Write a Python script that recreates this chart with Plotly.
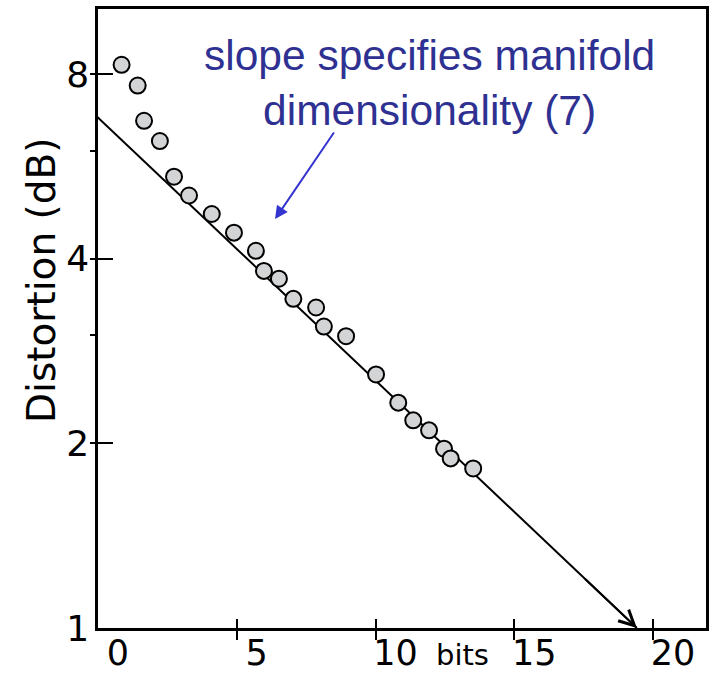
import numpy as np
import plotly.graph_objects as go

# ---- data ----
bits = [0.85, 1.43, 1.66, 2.23, 2.74, 3.28, 4.10, 4.90, 5.69, 5.98, 6.52,
        7.04, 7.86, 8.14, 8.94, 10.02, 10.82, 11.36, 11.93, 12.47, 12.71, 13.52]
distortion = [8.28, 7.66, 6.71, 6.22, 5.44, 5.07, 4.73, 4.41, 4.12, 3.82, 3.71,
              3.44, 3.33, 3.10, 2.99, 2.59, 2.33, 2.18, 2.10, 1.96, 1.89, 1.82]

fit_x = [-0.23, 19.42]
fit_y = [6.95, 1.0]

x_tickvals = [0, 5, 10, 15, 20]
y_tickvals = [1, 2, 3, 4, 6, 8]
y_ticktext = ["1", "2", "", "4", "", "8"]

note_text = "slope specifies manifold<br>dimensionality (7)"
note_pos = (11.96, 7.74)          # centre of the note (bits, dB)
note_arrow_tail = (8.54, 6.46)    # blue arrow tail (bits, dB)
note_arrow_tip = (6.38, 4.64)     # blue arrow tip (bits, dB)

fig = go.Figure()

fig.add_trace(go.Scatter(
    x=fit_x, y=fit_y, mode="lines",
    line=dict(color="black", width=2), hoverinfo="skip", showlegend=False))

fig.add_trace(go.Scatter(
    x=bits, y=distortion, mode="markers",
    marker=dict(size=16, color="#d3d4d6", line=dict(color="black", width=2)),
    showlegend=False))

# arrowhead at the end of the fit line
lx = np.log10(fit_y)
tail_x = 17.5
tail_ly = lx[0] + (lx[1] - lx[0]) * (tail_x - fit_x[0]) / (fit_x[1] - fit_x[0])
fig.add_annotation(x=fit_x[1], y=float(np.log10(fit_y[1])), xref="x", yref="y",
                   ax=tail_x, ay=float(tail_ly), axref="x", ayref="y",
                   text="", showarrow=True, arrowhead=5, arrowsize=1.5,
                   arrowwidth=2, arrowcolor="black", standoff=0)

# blue note arrow
fig.add_annotation(x=note_arrow_tip[0], y=float(np.log10(note_arrow_tip[1])),
                   xref="x", yref="y",
                   ax=note_arrow_tail[0], ay=float(np.log10(note_arrow_tail[1])),
                   axref="x", ayref="y",
                   text="", showarrow=True, arrowhead=2, arrowsize=1.3,
                   arrowwidth=2, arrowcolor="#3434cf", standoff=0)

fig.add_annotation(x=note_pos[0], y=float(np.log10(note_pos[1])), xref="x", yref="y",
                   text=note_text, showarrow=False, xanchor="center", yanchor="middle",
                   align="center",
                   font=dict(family="Liberation Sans, Arial", size=42.5, color="#2e3192"))

# axis titles
fig.add_annotation(x=-0.094, y=0.562, xref="paper", yref="paper",
                   text="Distortion (dB)", textangle=-90, showarrow=False,
                   xanchor="center", yanchor="middle",
                   font=dict(family="DejaVu Sans", size=39, color="black"))
fig.add_annotation(x=13.15, y=-0.044, xref="x", yref="paper",
                   text="bits", showarrow=False, xanchor="center", yanchor="middle",
                   font=dict(family="DejaVu Sans", size=29, color="black"))

fig.update_xaxes(range=[0, 21.91], tickmode="array", tickvals=x_tickvals,
                 ticks="inside", ticklen=9, tickwidth=2, tickcolor="black",
                 minor=dict(tickmode="array", tickvals=x_tickvals, ticks="outside",
                            ticklen=9, tickwidth=2, tickcolor="black"),
                 showline=True, linecolor="black", linewidth=2.5, mirror=True,
                 showgrid=False, zeroline=False, ticklabelshift=20,
                 ticklabelstandoff=-8, automargin=False,
                 tickfont=dict(family="DejaVu Sans", size=35, color="black"))
fig.update_yaxes(type="log", range=[0, 1.009], tickmode="array",
                 tickvals=y_tickvals, ticktext=y_ticktext,
                 ticks="inside", ticklen=15, tickwidth=2, tickcolor="black",
                 minor=dict(tickmode="array", tickvals=y_tickvals, ticks="outside",
                            ticklen=5, tickwidth=2, tickcolor="black"),
                 showline=True, linecolor="black", linewidth=2.5, mirror=True,
                 showgrid=False, zeroline=False, automargin=False,
                 ticklabelstandoff=-1,
                 tickfont=dict(family="DejaVu Sans", size=36, color="black"))

fig.update_layout(width=715, height=675, margin=dict(l=98, r=9, t=9, b=47),
                  paper_bgcolor="white", plot_bgcolor="white")

fig.write_html("out.html")
